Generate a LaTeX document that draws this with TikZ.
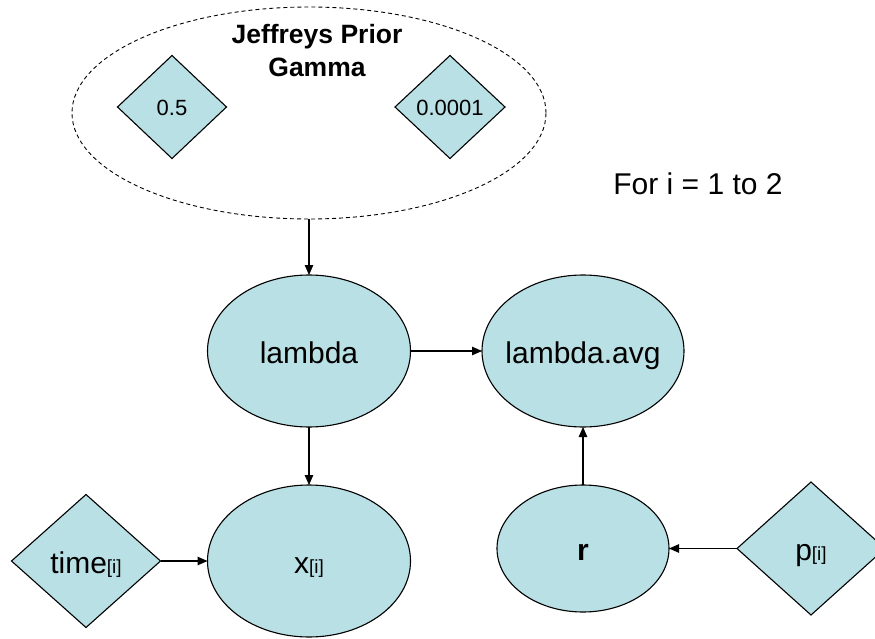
\documentclass[tikz,border=0pt]{standalone}
\usepackage{fontspec}
\setmainfont{Liberation Sans}
\usetikzlibrary{shapes.geometric,arrows.meta}
\definecolor{nodefill}{RGB}{185,224,228}
\newcommand{\idx}{{\fontsize{19}{19}\selectfont[i]}}
\begin{document}
\begin{tikzpicture}[x=1pt,y=-1pt,
  every node/.style={inner sep=0pt, outer sep=0pt},
  oval/.style={ellipse, draw=black, line width=1.1pt, fill=nodefill},
  dia/.style={diamond, draw=black, line width=1.1pt, fill=nodefill},
  lbl/.style={font=\fontsize{30}{36}\selectfont, text height=24pt, text depth=0pt},
  lblsmall/.style={font=\fontsize{22}{26}\selectfont, text height=17.4pt, text depth=0pt},
  arr/.style={-{Triangle[length=10pt,width=8.5pt]}, line width=1.1pt}]
\useasboundingbox (0,0) rectangle (875,639);
\clip (0,0) rectangle (875,639);

% plate for the prior
\node[ellipse, draw=black, dashed, dash pattern=on 4pt off 3pt, line width=0.9pt,
      minimum width=474pt, minimum height=212pt] (prior) at (309,113) {};
\node[font=\bfseries\fontsize{26.5}{33}\selectfont, align=center, anchor=north] (ptitle) at (317,24.5) {Jeffreys Prior\\Gamma};
\node[dia, minimum width=109pt, minimum height=103pt, label={[lblsmall]center:0.5}] (a) at (172,107) {};
\node[dia, minimum width=110pt, minimum height=103pt, label={[lblsmall]center:0.0001}] (b) at (450,107) {};

\node[font=\fontsize{30}{36}\selectfont, anchor=base] (loop) at (698,194) {For i = 1 to 2};

\node[oval, minimum width=203pt, minimum height=152pt, label={[lbl]center:lambda}] (lambda) at (309,351) {};
\node[oval, minimum width=202pt, minimum height=152pt, label={[lbl]center:lambda.avg}] (lavg) at (583,351) {};
\node[oval, minimum width=203pt, minimum height=152pt, label={[lbl]center:x\idx}] (xi) at (309,561) {};
\node[dia, minimum width=149pt, minimum height=133pt, label={[lbl]center:time\idx}] (time) at (86,561) {};
\node[oval, minimum width=172pt, minimum height=127pt, label={[lbl]center:\textbf{r}}] (r) at (583,548.5) {};
\node[dia, minimum width=148pt, minimum height=133pt, label={[lbl]center:p\idx}] (p) at (811,548.5) {};

\draw[arr] (prior) -- (lambda);
\draw[arr] (lambda) -- (lavg);
\draw[arr] (lambda) -- (xi);
\draw[arr] (time) -- (xi);
\draw[arr] (r) -- (lavg);
\draw[arr] (p) -- (r);
\end{tikzpicture}
\end{document}
